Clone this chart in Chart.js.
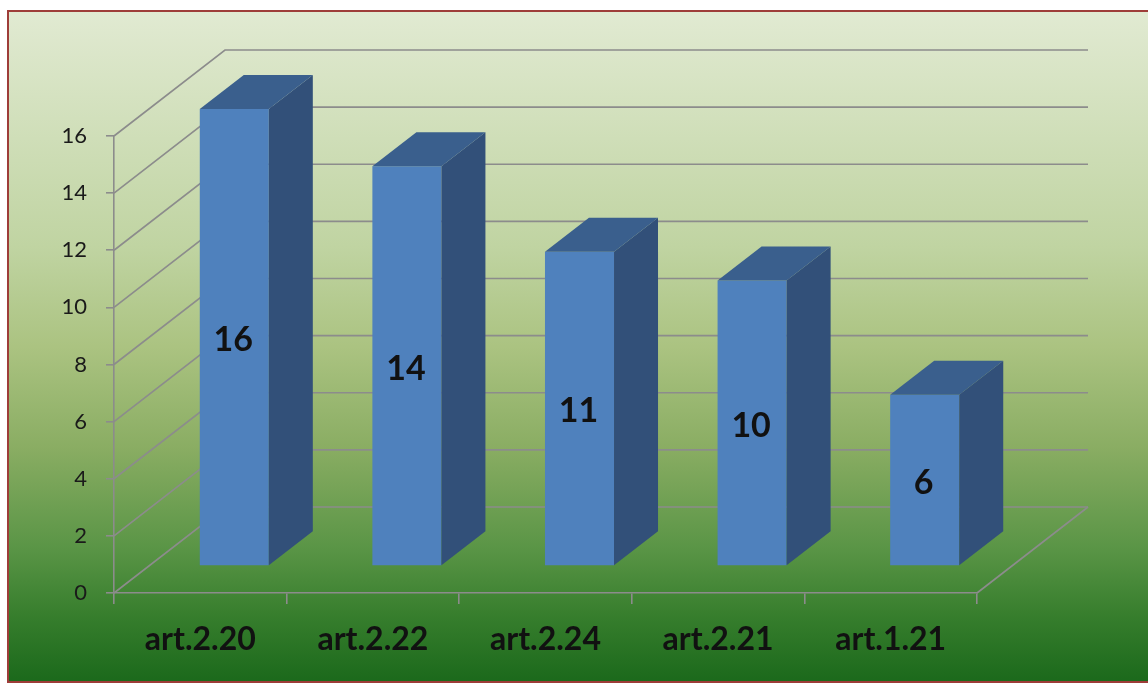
<!DOCTYPE html>
<html>
<head>
<meta charset="utf-8">
<script src="https://cdn.jsdelivr.net/npm/chart.js@4/dist/chart.umd.min.js"></script>
<style>
  html, body { margin: 0; padding: 0; background: #ffffff; }
  canvas { display: block; }
</style>
</head>
<body>
<canvas id="artChart" width="1148" height="684"></canvas>
<script>
// data
var categories = ['art.2.20', 'art.2.22', 'art.2.24', 'art.2.21', 'art.1.21'];
var values = [16, 14, 11, 10, 6];
var yTicks = [0, 2, 4, 6, 8, 10, 12, 14, 16];

// 3d look
var depthX = 111, depthY = -86;      // front plane -> back wall
var barShiftX = 34, barShiftY = -27; // front plane -> bar front face
var barDepthX = 44, barDepthY = -34; // bar front face -> bar back
var gridColor = '#8c8c8c';

Chart.defaults.font.family = 'Lato, "Open Sans", sans-serif';

var threeD = {
    id: 'threeD',
    beforeDraw: function (chart) {
        var ctx = chart.ctx;
        ctx.save();
        var g = ctx.createLinearGradient(0, 11, 0, 682);
        g.addColorStop(0, '#e1ead2');
        g.addColorStop(0.35, '#c0d4a2');
        g.addColorStop(0.5, '#abc381');
        g.addColorStop(0.65, '#8aad63');
        g.addColorStop(0.8, '#5a9546');
        g.addColorStop(0.9, '#377e2d');
        g.addColorStop(1, '#1b691b');
        ctx.fillStyle = g;
        ctx.fillRect(8, 11, 1148, 671);
        ctx.strokeStyle = '#9e3d39';
        ctx.lineWidth = 2;
        ctx.strokeRect(8, 11, 1150, 671);
        ctx.restore();
    },
    beforeDatasetsDraw: function (chart) {
        var ctx = chart.ctx;
        var area = chart.chartArea;
        var y = chart.scales.y;
        ctx.save();
        ctx.strokeStyle = gridColor;
        ctx.lineWidth = 1.6;
        yTicks.forEach(function (v) {
            var py = y.getPixelForValue(v);
            ctx.beginPath();
            ctx.moveTo(area.left, py);
            ctx.lineTo(area.left + depthX, py + depthY);
            ctx.lineTo(area.right + depthX, py + depthY);
            ctx.stroke();
        });
        // floor right edge
        var base = y.getPixelForValue(0);
        ctx.beginPath();
        ctx.moveTo(area.right, base);
        ctx.lineTo(area.right + depthX, base + depthY);
        ctx.stroke();
        ctx.restore();

        // bars sit a little behind the front plane
        ctx.save();
        ctx.translate(barShiftX, barShiftY);
    },
    afterDatasetsDraw: function (chart) {
        var ctx = chart.ctx;
        var meta = chart.getDatasetMeta(0);
        meta.data.forEach(function (bar, i) {
            var x0 = bar.x - bar.width / 2;
            var x1 = bar.x + bar.width / 2;
            var top = bar.y, bot = bar.base;
            // side
            ctx.fillStyle = '#325079';
            ctx.beginPath();
            ctx.moveTo(x1, top);
            ctx.lineTo(x1 + barDepthX, top + barDepthY);
            ctx.lineTo(x1 + barDepthX, bot + barDepthY);
            ctx.lineTo(x1, bot);
            ctx.closePath();
            ctx.fill();
            // top
            ctx.fillStyle = '#3a5f8d';
            ctx.beginPath();
            ctx.moveTo(x0, top);
            ctx.lineTo(x0 + barDepthX, top + barDepthY);
            ctx.lineTo(x1 + barDepthX, top + barDepthY);
            ctx.lineTo(x1, top);
            ctx.closePath();
            ctx.fill();
            // value label
            ctx.fillStyle = '#111111';
            ctx.font = 'bold 34px Lato, sans-serif';
            ctx.textAlign = 'center';
            ctx.textBaseline = 'middle';
            ctx.fillText(String(values[i]), bar.x - 1, (top + bot) / 2 + 3);
        });
        ctx.restore();
    }
};

var ctx = document.getElementById('artChart');
var artChart = new Chart(ctx, {
    type: 'bar',
    data: {
        labels: categories,
        datasets: [{
            data: values,
            backgroundColor: '#4f81bd',
            borderWidth: 0,
            barPercentage: 1,
            categoryPercentage: 0.4,
        }]
    },
    options: {
        responsive: false,
        animation: false,
        devicePixelRatio: 1,
        layout: {
            padding: { left: 0, top: 136, right: 171, bottom: 0 }
        },
        plugins: {
            legend: { display: false },
            tooltip: { enabled: false },
        },
        scales: {
            x: {
                afterFit: function (scale) { scale.height = 91; },
                grid: {
                    offset: true,
                    drawOnChartArea: false,
                    tickLength: 11,
                    color: gridColor,
                    lineWidth: 1.6,
                },
                border: { color: gridColor, width: 1.6 },
                ticks: {
                    color: '#111111',
                    padding: 16,
                    font: { size: 32, weight: 'bold' },
                }
            },
            y: {
                min: 0,
                max: 16,
                afterFit: function (scale) { scale.width = 114; },
                afterBuildTicks: function (scale) {
                    scale.ticks = yTicks.map(function (v) { return { value: v }; });
                },
                grid: {
                    drawOnChartArea: false,
                    tickLength: 8,
                    color: gridColor,
                    lineWidth: 1.6,
                },
                border: { color: gridColor, width: 1.6 },
                ticks: {
                    color: '#1a1a1a',
                    padding: 19,
                    font: { size: 22 },
                }
            }
        }
    },
    plugins: [threeD]
});
</script>
</body>
</html>
